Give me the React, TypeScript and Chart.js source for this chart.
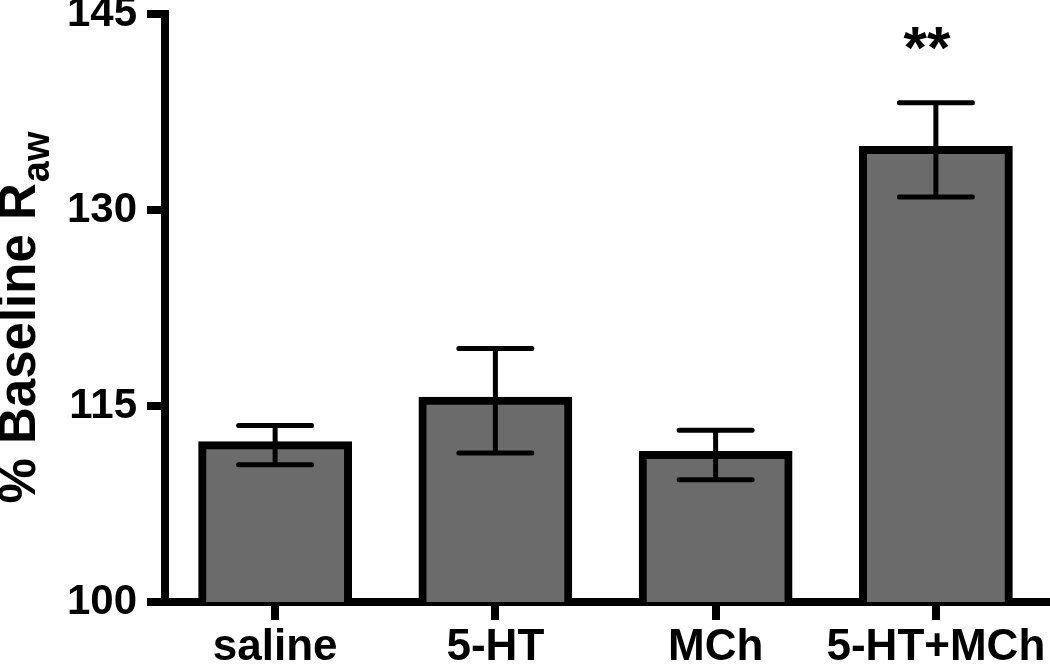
import React, { useEffect, useRef } from "react";
import { Chart, registerables } from "chart.js";

Chart.register(...registerables);

const categories = ["saline", "5-HT", "MCh", "5-HT+MCh"];
const meanValues = [112.0, 115.4, 111.25, 134.6];
const semValues = [1.5, 4.0, 1.9, 3.6];
const significance = ["", "", "", "**"];
const yTicks = [100, 115, 130, 145];
const yTitleMain = "% Baseline R";
const yTitleSub = "aw";

const FONT = '"Liberation Sans", Arial, Helvetica, sans-serif';

const overlayPlugin = {
  id: "overlay",
  afterDatasetsDraw(chart: any) {
    const ctx = chart.ctx;
    const meta = chart.getDatasetMeta(0);
    const y = chart.scales.y;
    ctx.save();
    ctx.strokeStyle = "#000";
    ctx.lineWidth = 5;
    ctx.lineCap = "round";
    meta.data.forEach((bar: any, i: number) => {
      const x = bar.x;
      const top = y.getPixelForValue(meanValues[i] + semValues[i]);
      const bot = y.getPixelForValue(meanValues[i] - semValues[i]);
      const half = 36.5;
      ctx.beginPath();
      ctx.moveTo(x, top);
      ctx.lineTo(x, bot);
      ctx.moveTo(x - half, top);
      ctx.lineTo(x + half, top);
      ctx.moveTo(x - half, bot);
      ctx.lineTo(x + half, bot);
      ctx.stroke();
      if (significance[i]) {
        ctx.fillStyle = "#000";
        ctx.font = `bold 60px ${FONT}`;
        ctx.textAlign = "center";
        ctx.textBaseline = "alphabetic";
        ctx.fillText(significance[i], x - 9, top - 35);
      }
    });
    ctx.restore();
  },
  afterDraw(chart: any) {
    const ctx = chart.ctx;
    const y = chart.scales.y;
    ctx.save();
    ctx.fillStyle = "#000";
    ctx.font = `bold 51px ${FONT}`;
    const mainW = ctx.measureText(yTitleMain).width;
    ctx.font = `bold 38px ${FONT}`;
    const subW = ctx.measureText(yTitleSub).width;
    const total = mainW + subW;
    const cy = 318;
    ctx.translate(35, cy + total / 2);
    ctx.rotate(-Math.PI / 2);
    ctx.textAlign = "left";
    ctx.textBaseline = "alphabetic";
    ctx.font = `bold 51px ${FONT}`;
    ctx.fillText(yTitleMain, 0, 0);
    ctx.font = `bold 38px ${FONT}`;
    ctx.fillText(yTitleSub, mainW + 1, 14);
    ctx.restore();
  },
};

export default function App() {
  const canvasRef = useRef<HTMLCanvasElement | null>(null);

  useEffect(() => {
    document.body.style.margin = "0";
    const canvas = canvasRef.current;
    if (!canvas) return;
    const chart = new Chart(canvas, {
      type: "bar",
      data: {
        labels: categories,
        datasets: [
          {
            data: meanValues,
            backgroundColor: "#6b6b6b",
            borderColor: "#000",
            borderWidth: 8,
            borderSkipped: "start",
            inflateAmount: 4,
            categoryPercentage: 1,
            barPercentage: 0.662,
          } as any,
        ],
      },
      options: {
        responsive: false,
        animation: false,
        layout: { padding: { top: 14, right: 4, left: 0, bottom: 0 } },
        plugins: {
          legend: { display: false },
          tooltip: { enabled: false },
        },
        scales: {
          x: {
            z: 1,
            ticks: {
              color: "#000",
              font: { family: FONT, weight: "bold", size: 44 },
              padding: 1,
              maxRotation: 0,
              autoSkip: false,
            },
            grid: {
              display: true,
              drawOnChartArea: false,
              drawTicks: true,
              offset: false,
              tickLength: 18,
              lineWidth: 8,
              color: "#000",
            },
            border: { display: true, width: 8, color: "#000" },
            afterFit: (s: any) => {
              s.height = 62;
              s.paddingLeft = 0;
              s.paddingRight = 0;
            },
          },
          y: {
            min: yTicks[0],
            max: yTicks[yTicks.length - 1],
            afterBuildTicks: (s: any) => {
              s.ticks = yTicks.map((v) => ({ value: v }));
            },
            ticks: {
              color: "#000",
              font: { family: FONT, weight: "bold", size: 42 },
              padding: 10,
            },
            grid: {
              display: true,
              drawOnChartArea: false,
              drawTicks: true,
              tickLength: 18,
              lineWidth: 8,
              color: "#000",
            },
            border: { display: true, width: 8, color: "#000" },
            afterFit: (s: any) => {
              s.width = 165;
              s.paddingTop = 0;
              s.paddingBottom = 0;
            },
          },
        },
      } as any,
      plugins: [overlayPlugin],
    });
    return () => chart.destroy();
  }, []);

  return (
    <div style={{ width: 1050, height: 664, position: "relative" }}>
      <canvas ref={canvasRef} width={1050} height={664} style={{ display: "block" }} />
    </div>
  );
}
